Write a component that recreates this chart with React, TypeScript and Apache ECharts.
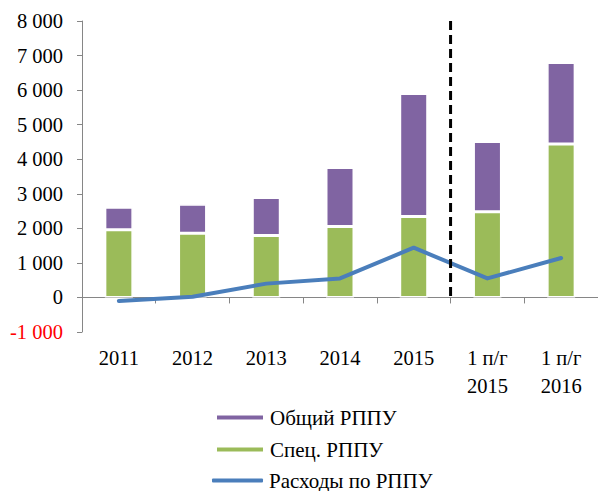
import React, { useEffect, useRef } from "react";
import * as echarts from "echarts";

const categories = ["2011", "2012", "2013", "2014", "2015", "1 п/г\n2015", "1 п/г\n2016"];
const specValues = [1960, 1860, 1790, 2050, 2340, 2480, 4440];
const generalValues = [650, 840, 1100, 1710, 3560, 2030, 2360];
const expenseValues = [-100, 20, 400, 550, 1440, 550, 1140];
const yMin = -1000;
const yMax = 8000;
const yStep = 1000;

const FONT = "Liberation Serif";

function fmt(v: number): string {
  const s = Math.abs(v).toString().replace(/\B(?=(\d{3})+(?!\d))/g, " ");
  return (v < 0 ? "-" : "") + s;
}

const legendBase = {
  orient: "horizontal",
  left: 215,
  padding: 0,
  itemWidth: 48,
  itemGap: 0,
  textStyle: { fontFamily: FONT, fontSize: 21, color: "#000", padding: [0, 0, 0, 1] },
};

export default function App() {
  const ref = useRef<HTMLDivElement>(null);
  useEffect(() => {
    if (!ref.current) return;
    const chart = echarts.init(ref.current, null, { renderer: "svg" });
    chart.setOption({
      animation: false,
      textStyle: { fontFamily: FONT },
      grid: { left: 82, right: 0, top: 21, bottom: 159, containLabel: false },
      legend: [
        { ...legendBase, top: 407, itemHeight: 6, data: [{ name: "Общий РППУ", icon: "rect" }] },
        { ...legendBase, top: 439, itemHeight: 6, data: [{ name: "Спец. РППУ", icon: "rect" }] },
        { ...legendBase, top: 470, left: 212, itemWidth: 51, itemHeight: 4, data: [{ name: "Расходы по РППУ", icon: "roundRect" }] },
      ],
      xAxis: [
        {
          type: "category",
          data: categories,
          axisLine: { onZero: true, lineStyle: { color: "#868686", width: 1 } },
          axisTick: { show: true, length: 6, lineStyle: { color: "#868686" } },
          axisLabel: { show: false },
        },
        {
          type: "category",
          data: categories,
          position: "bottom",
          axisLine: { show: false, onZero: false },
          axisTick: { show: false },
          axisLabel: {
            fontFamily: FONT,
            fontSize: 20.5,
            color: "#000",
            margin: 12,
            lineHeight: 28,
            interval: 0,
          },
        },
      ],
      yAxis: {
        type: "value",
        min: yMin,
        max: yMax,
        interval: yStep,
        splitLine: { show: false },
        axisLine: { show: true, lineStyle: { color: "#868686", width: 1 } },
        axisTick: { show: true, length: 5, lineStyle: { color: "#868686" } },
        axisLabel: {
          fontFamily: FONT,
          fontSize: 20.5,
          margin: 19,
          color: (v: any) => (Number(v) < 0 ? "#ff0000" : "#000"),
          formatter: (v: number) => fmt(v),
        },
      },
      series: [
        {
          name: "Спец. РППУ",
          type: "bar",
          stack: "total",
          xAxisIndex: 0,
          barWidth: "38%",
          data: specValues,
          itemStyle: { color: "#9BBB59", borderColor: "#fff", borderWidth: 1.5 },
        },
        {
          name: "Общий РППУ",
          type: "bar",
          stack: "total",
          xAxisIndex: 0,
          barWidth: "38%",
          data: generalValues,
          itemStyle: { color: "#8064A2", borderColor: "#fff", borderWidth: 1.5 },
        },
        {
          name: "Расходы по РППУ",
          type: "line",
          xAxisIndex: 0,
          data: expenseValues,
          symbol: "none",
          showSymbol: false,
          lineStyle: { color: "#4A7EBB", width: 4, cap: "round", join: "round" },
          itemStyle: { color: "#4A7EBB" },
          z: 5,
        },
      ],
    });
    const x1 = chart.convertToPixel({ xAxisIndex: 0 }, categories[4]) as number;
    const x2 = chart.convertToPixel({ xAxisIndex: 0 }, categories[5]) as number;
    const xm = (x1 + x2) / 2;
    const yTop = chart.convertToPixel({ yAxisIndex: 0 }, yMax) as number;
    const yZero = chart.convertToPixel({ yAxisIndex: 0 }, 0) as number;
    chart.setOption({
      graphic: [
        {
          type: "line",
          shape: { x1: xm, y1: yTop, x2: xm, y2: yZero },
          style: { stroke: "#000", lineWidth: 3, lineDash: [9, 5] },
          z: 10,
        },
      ],
    });
    return () => chart.dispose();
  }, []);
  return (
    <div
      ref={ref}
      style={{ position: "absolute", left: 0, top: 0, width: 598, height: 491 }}
    />
  );
}
